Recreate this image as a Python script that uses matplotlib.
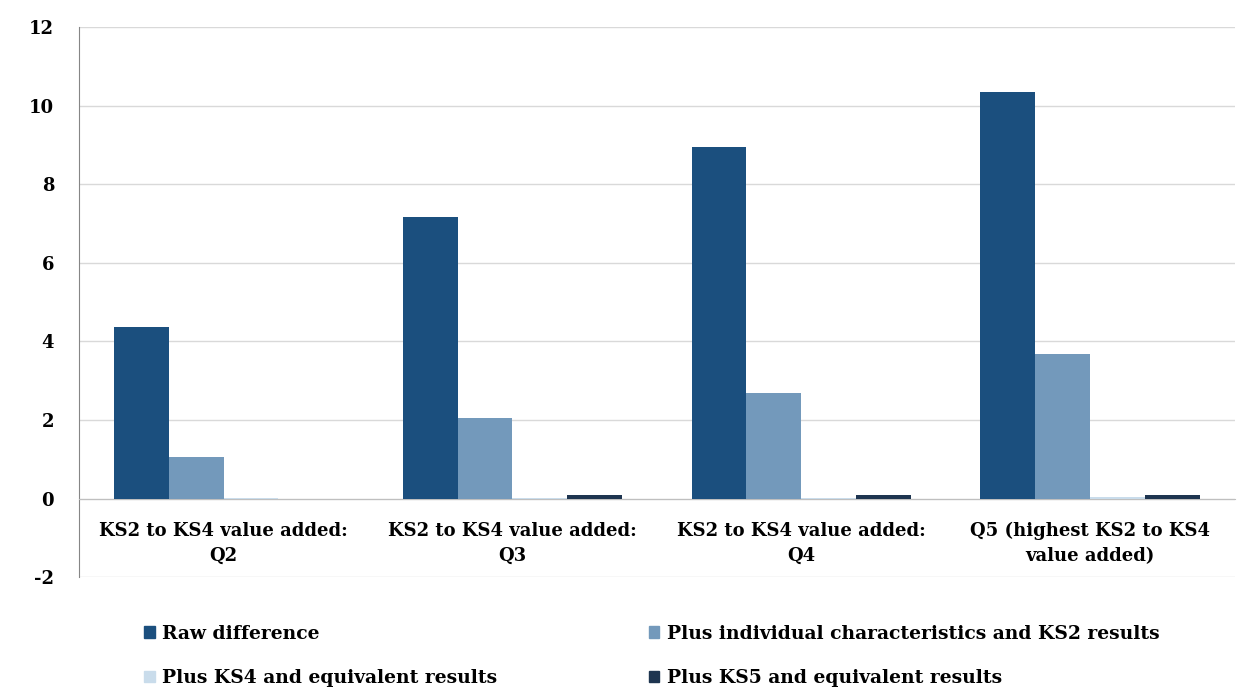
import numpy as np
import matplotlib.pyplot as plt
from matplotlib.patches import Patch

plt.rcParams['font.family'] = ['DejaVu Serif']
plt.rcParams['font.weight'] = 'bold'

# categories and series
categories = ["KS2 to KS4 value added:\nQ2",
              "KS2 to KS4 value added:\nQ3",
              "KS2 to KS4 value added:\nQ4",
              "Q5 (highest KS2 to KS4\nvalue added)"]
series_names = ["Raw difference",
                "Plus individual characteristics and KS2 results",
                "Plus KS4 and equivalent results",
                "Plus KS5 and equivalent results"]
raw_diff = [4.36, 7.17, 8.95, 10.36]
plus_indiv = [1.07, 2.04, 2.68, 3.67]
plus_ks4 = [0.02, 0.02, 0.02, 0.03]
plus_ks5 = [0.0, 0.08, 0.08, 0.10]
yticks = [-2, 0, 2, 4, 6, 8, 10, 12]

colors = ['#1B4F7E', '#7399BB', '#C9DCEB', '#1E3550']

fig = plt.figure(figsize=(12.37, 6.97), dpi=100)
ax = fig.add_axes([0.064, 0.172, 0.934, 0.789])

x = np.arange(len(categories))
w = 0.19
all_series = [raw_diff, plus_indiv, plus_ks4, plus_ks5]
for i, vals in enumerate(all_series):
    ax.bar(x + (i - 1.5) * w, vals, width=w, color=colors[i], zorder=3)

# spine first: moving it resets the ticks
ax.spines['bottom'].set_position(('data', 0))
ax.spines['bottom'].set_color('#BFBFBF')
ax.spines['left'].set_color('#868686')
ax.spines['top'].set_visible(False)
ax.spines['right'].set_visible(False)

ax.set_xlim(-0.5, 3.5)
ax.set_ylim(-2, 12)
ax.set_yticks(yticks)
ax.set_yticklabels([str(v) for v in yticks], fontsize=13)
ax.tick_params(axis='y', length=0, pad=18)
ax.yaxis.grid(True, color='#D9D9D9', linewidth=1, zorder=0)

ax.set_xticks(x)
ax.set_xticklabels(categories, fontsize=13, linespacing=1.45)
ax.tick_params(axis='x', length=0, pad=17)

handles = [Patch(color=c) for c in colors]
order = [0, 2, 1, 3]
fig.legend([handles[i] for i in order], [series_names[i] for i in order],
           ncol=2, loc='upper left', bbox_to_anchor=(0.103, 0.128),
           frameon=False, fontsize=13.5, handlelength=0.55, handleheight=0.55,
           handletextpad=0.4, columnspacing=8.1, labelspacing=1.4)

plt.savefig('out.png', dpi=100)
